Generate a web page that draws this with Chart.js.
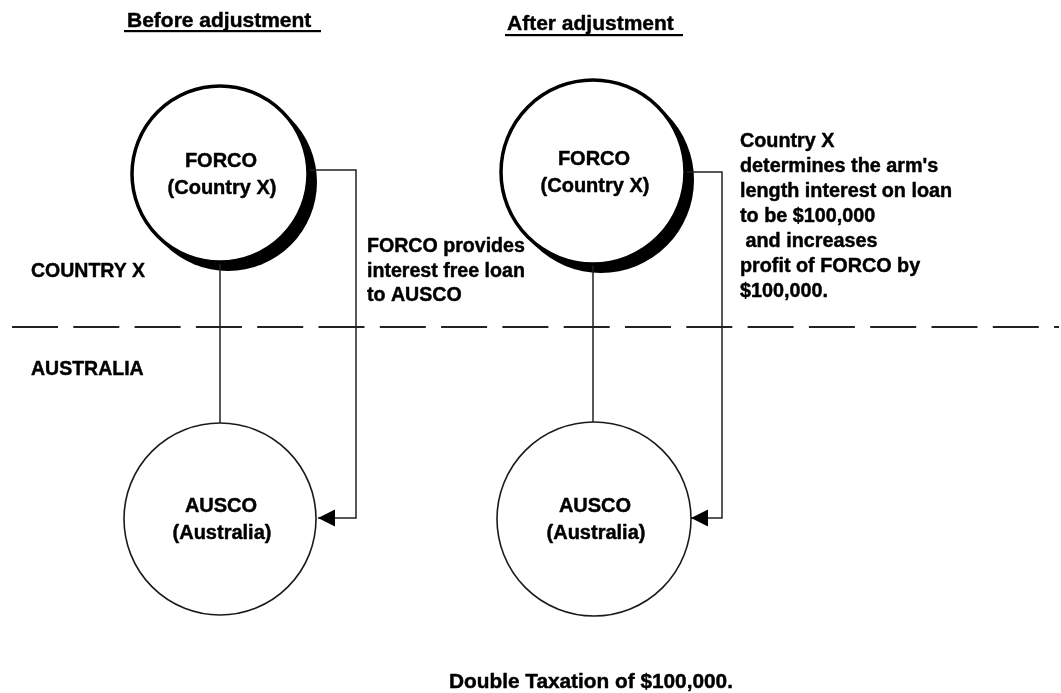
<!DOCTYPE html>
<html><head><meta charset="utf-8">
<script src="https://cdn.jsdelivr.net/npm/chart.js@4"></script>
<style>html,body{margin:0;padding:0;background:#fff}canvas{display:block}</style>
</head><body>
<canvas id="c" width="1061" height="693"></canvas>
<script>
// ---- Diagram values (virtual units on a 1061 x 693 frame) ----
const nodeNames = ['FORCO', 'AUSCO', 'FORCO', 'AUSCO'];
const nodeSubs  = ['(Country X)', '(Australia)', '(Country X)', '(Australia)'];
const nodeX = [220, 220, 593, 594];
const nodeY = [174, 519, 172, 519];
const nodeR = [88, 96, 92, 97];
const nodeHeavy = [true, false, true, false];

const connLeftX  = [220, 220];
const connLeftY  = [262, 424];
const connRightX = [593, 593];
const connRightY = [264, 424];

const arrowLeftX  = [300, 356, 356, 318];
const arrowLeftY  = [170, 170, 518, 518];
const arrowRightX = [680, 722, 722, 691];
const arrowRightY = [172, 172, 518, 518];

const dividerX = [12, 1059];
const dividerY = [327, 327];

const titles = ['Before adjustment ', 'After adjustment '];
const regionLabels = ['COUNTRY X', 'AUSTRALIA'];
const noteLeft = ['FORCO provides', 'interest free loan', 'to AUSCO'];
const noteRight = ['Country X', "determines the arm's", 'length interest on loan',
  'to be $100,000', ' and increases', 'profit of FORCO by', '$100,000.'];
const footer = 'Double Taxation of $100,000.';

// ---- text layout ----
const LAYOUT = {
  titles: [{x:127, y:27, ul:31, ux0:124, ux1:321}, {x:507, y:30, ul:35, ux0:505, ux1:683}],
  regions: [{x:31, y:277}, {x:31, y:375}],
  noteLeft: {x:367, y:252, dy:24.5},
  noteRight: {x:740, y:147, dy:25},
  footer: {x:449, y:688}
};
const FONT = '"Liberation Sans", Arial, sans-serif';

const pts = (xs, ys) => xs.map((x, i) => ({x, y: ys[i]}));

const lineDs = (xs, ys, extra) => Object.assign({
  type: 'line', data: pts(xs, ys), borderColor: '#222', borderWidth: 1.5,
  pointRadius: 0, fill: false, tension: 0, order: 2, clip: false
}, extra || {});

function boldText(ctx, t, x, y) {
  ctx.fillText(t, x, y);
  ctx.strokeText(t, x, y);
}

const diagramPlugin = {
  id: 'diagram',
  beforeDatasetsDraw(chart) {
    const ctx = chart.ctx;
    const meta = chart.getDatasetMeta(0);
    const sx = chart.scales.x;
    ctx.save();
    ctx.fillStyle = '#000';
    meta.data.forEach((el, i) => {
      if (!nodeHeavy[i]) return;
      const r = sx.getPixelForValue(nodeX[i] + nodeR[i]) - sx.getPixelForValue(nodeX[i]);
      ctx.beginPath();
      ctx.arc(el.x + 8, el.y + 8, r + 1, 0, Math.PI * 2);
      ctx.fill();
    });
    ctx.restore();
  },
  afterDatasetsDraw(chart) {
    const ctx = chart.ctx;
    ctx.save();
    // arrowheads at the end of arrow datasets
    chart.data.datasets.forEach((ds, di) => {
      if (!ds.arrow) return;
      const d = chart.getDatasetMeta(di).data;
      const a = d[d.length - 1], b = d[d.length - 2];
      const ang = Math.atan2(a.y - b.y, a.x - b.x);
      const L = 17, W = 8.5;
      ctx.fillStyle = '#000';
      ctx.beginPath();
      ctx.moveTo(a.x, a.y);
      ctx.lineTo(a.x - L * Math.cos(ang) + W * Math.sin(ang), a.y - L * Math.sin(ang) - W * Math.cos(ang));
      ctx.lineTo(a.x - L * Math.cos(ang) - W * Math.sin(ang), a.y - L * Math.sin(ang) + W * Math.cos(ang));
      ctx.closePath();
      ctx.fill();
    });
    // node texts
    const meta = chart.getDatasetMeta(0);
    ctx.fillStyle = '#000';
    ctx.strokeStyle = '#000';
    ctx.lineWidth = 0.45;
    ctx.lineJoin = 'round';
    ctx.textAlign = 'center';
    ctx.textBaseline = 'alphabetic';
    ctx.font = 'bold 20px ' + FONT;
    meta.data.forEach((el, i) => {
      boldText(ctx, nodeNames[i], el.x + 1, el.y - 7);
      boldText(ctx, nodeSubs[i], el.x + 2, el.y + 19.5);
    });
    // titles
    ctx.textAlign = 'left';
    ctx.font = 'bold 21px ' + FONT;
    titles.forEach((t, i) => {
      const p = LAYOUT.titles[i];
      boldText(ctx, t, p.x, p.y);
      ctx.fillRect(p.ux0, p.ul - 1, p.ux1 - p.ux0, 2.2);
    });
    // region labels
    ctx.font = 'bold 19.5px ' + FONT;
    regionLabels.forEach((t, i) => boldText(ctx, t, LAYOUT.regions[i].x, LAYOUT.regions[i].y));
    // notes
    ctx.font = 'bold 19.6px ' + FONT;
    noteLeft.forEach((t, i) => boldText(ctx, t, LAYOUT.noteLeft.x, LAYOUT.noteLeft.y + i * LAYOUT.noteLeft.dy));
    ctx.font = 'bold 19.8px ' + FONT;
    noteRight.forEach((t, i) => boldText(ctx, t, LAYOUT.noteRight.x, LAYOUT.noteRight.y + i * LAYOUT.noteRight.dy));
    // footer
    ctx.font = 'bold 20.8px ' + FONT;
    boldText(ctx, footer, LAYOUT.footer.x, LAYOUT.footer.y);
    ctx.restore();
  }
};

new Chart(document.getElementById('c'), {
  type: 'scatter',
  data: {
    datasets: [
      {
        label: 'nodes',
        data: pts(nodeX, nodeY),
        order: 0,
        clip: false,
        pointStyle: 'circle',
        pointRadius: (c) => {
          const s = c.chart.scales.x, i = c.dataIndex;
          return s.getPixelForValue(nodeX[i] + nodeR[i]) - s.getPixelForValue(nodeX[i]);
        },
        pointBackgroundColor: '#fff',
        pointBorderColor: (c) => nodeHeavy[c.dataIndex] ? '#000' : '#1a1a1a',
        pointBorderWidth: (c) => nodeHeavy[c.dataIndex] ? 3.5 : 1.6
      },
      lineDs(connLeftX, connLeftY),
      lineDs(connRightX, connRightY),
      lineDs(arrowLeftX, arrowLeftY, {arrow: true}),
      lineDs(arrowRightX, arrowRightY, {arrow: true}),
      lineDs(dividerX, dividerY, {borderDash: [46, 15.3], borderWidth: 2, borderColor: '#222'})
    ]
  },
  options: {
    responsive: false,
    animation: false,
    devicePixelRatio: 1,
    events: [],
    layout: {padding: 0},
    plugins: {legend: {display: false}, tooltip: {enabled: false}},
    scales: {
      x: {type: 'linear', min: 0, max: 1061, display: false},
      y: {type: 'linear', min: 0, max: 693, reverse: true, display: false}
    }
  },
  plugins: [diagramPlugin]
});
</script>
</body></html>
